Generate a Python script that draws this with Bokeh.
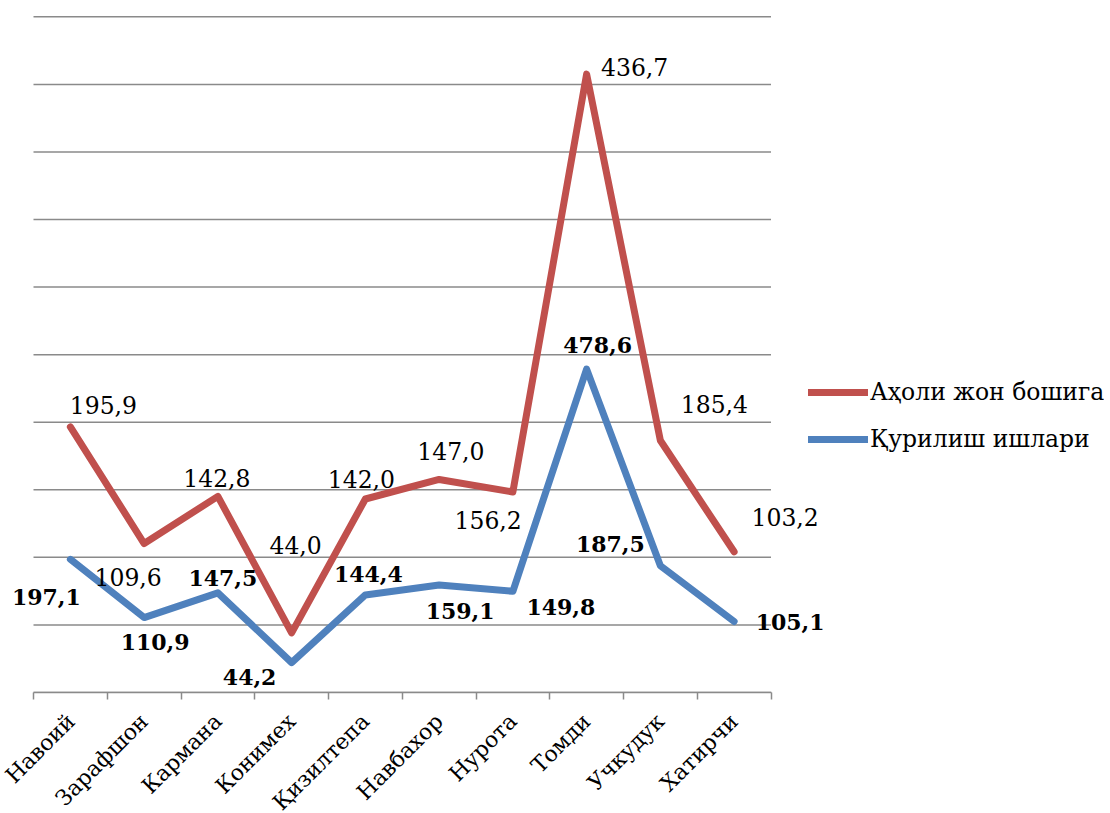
import math
from bokeh.plotting import figure
from bokeh.models import ColumnDataSource, Range1d, FixedTicker, Legend, LegendItem, Label
from bokeh.transform import stack
from bokeh.embed import file_html
from bokeh.resources import INLINE

# ---- data ----
categories = ["Навоий", "Зарафшон", "Кармана", "Конимех", "Қизилтепа",
              "Навбахор", "Нурота", "Томди", "Учкудук", "Хатирчи"]
construction = [197.1, 110.9, 147.5, 44.2, 144.4, 159.1, 149.8, 478.6, 187.5, 105.1]
per_capita = [195.9, 109.6, 142.8, 44.0, 142.0, 156.2, 147.0, 436.7, 185.4, 103.2]
construction_name = "Қурилиш ишлари"
per_capita_name = "Аҳоли жон бошига"
y_grid_values = list(range(0, 1001, 100))

# label placement (screen pixel offsets from each point; dy positive = down)
per_capita_dx = [33, -16, -1, 4, -4, 49, -62, 48, 54, 51]
per_capita_dy = [-22, 33, -18, -88, -20, 41, -41, -7, -37, -35]
construction_dx = [-24, 11, 5, -42, 3, 21, 48, 11, -50, 56]
construction_dy = [38, 24, -15, 14, -21, 26, 16, -24, -22, 1]

RED = "#C0504D"
BLUE = "#4F81BD"
GRID = "#8a8a8a"
FONT = "DejaVu Serif"
FS_LBL = "23.5px"
FS_BOLD = "22px"
FS_AX = "22px"
FS_LEG = "23.5px"


def fmt(v):
    return f"{v:.1f}".replace(".", ",")


n = len(categories)
idx = list(range(n))
src = ColumnDataSource(dict(x=idx, construction=construction, per_capita=per_capita))

# layout: the plotting frame spans the whole canvas so labels are never clipped;
# the category area occupies 737.5 px starting 33 px from the left.
px_per_cat = 737.5 / n
frame_w = 1104
x_start = -0.5 - 33 / px_per_cat
x_end = x_start + frame_w / px_per_cat

p = figure(frame_width=frame_w, frame_height=677,
           x_range=Range1d(x_start, x_end),
           y_range=Range1d(0, 1002),
           output_backend="svg", toolbar_location=None,
           min_border_left=0, min_border_top=15, min_border_right=0,
           min_border_bottom=0)
p.outline_line_color = None
p.background_fill_color = "white"

# horizontal gridlines limited to the category area
p.segment(x0=[-0.5] * len(y_grid_values), x1=[n - 0.5] * len(y_grid_values),
          y0=y_grid_values, y1=y_grid_values, line_color=GRID, line_width=1.5)

# stacked lines
blue = p.line("x", "construction", source=src, line_color=BLUE, line_width=7,
              line_cap="round", line_join="round")
red = p.line("x", stack("construction", "per_capita"), source=src, line_color=RED,
             line_width=7, line_cap="round", line_join="round")

# data labels
for i in idx:
    top = construction[i] + per_capita[i]
    p.add_layout(Label(x=i, y=top, text=fmt(per_capita[i]),
                       x_offset=per_capita_dx[i], y_offset=-per_capita_dy[i],
                       text_font=FONT, text_font_size=FS_LBL, text_color="black",
                       text_align="center", text_baseline="middle"))
    p.add_layout(Label(x=i, y=construction[i], text=fmt(construction[i]),
                       x_offset=construction_dx[i], y_offset=-construction_dy[i],
                       text_font=FONT, text_font_size=FS_BOLD, text_font_style="bold",
                       text_color="black", text_align="center", text_baseline="middle"))

# axes
p.yaxis.visible = False
xa = p.xaxis[0]
xa.bounds = (-0.5, n - 0.5)
xa.ticker = FixedTicker(ticks=idx, minor_ticks=[i - 0.5 for i in range(n + 1)])
xa.major_label_overrides = {i: c for i, c in zip(idx, categories)}
xa.major_tick_in = 0
xa.major_tick_out = 0
xa.minor_tick_in = 0
xa.minor_tick_out = 7
xa.minor_tick_line_color = GRID
xa.minor_tick_line_width = 1.5
xa.axis_line_color = GRID
xa.axis_line_width = 1.5
xa.major_label_orientation = math.pi / 4
xa.major_label_standoff = 18
xa.major_label_text_font = FONT
xa.major_label_text_font_size = FS_AX
xa.major_label_text_color = "black"

p.xgrid.visible = False
p.ygrid.visible = False

legend = Legend(items=[LegendItem(label=per_capita_name, renderers=[red]),
                       LegendItem(label=construction_name, renderers=[blue])],
                location=(808, 238), orientation="vertical",
                glyph_width=60, glyph_height=30, label_height=30,
                label_standoff=2, spacing=17, padding=0, margin=0,
                border_line_color=None, background_fill_alpha=0,
                label_text_font=FONT, label_text_font_size=FS_LEG,
                label_text_color="black")
p.add_layout(legend)

open("out.html", "w").write(file_html(p, INLINE))
